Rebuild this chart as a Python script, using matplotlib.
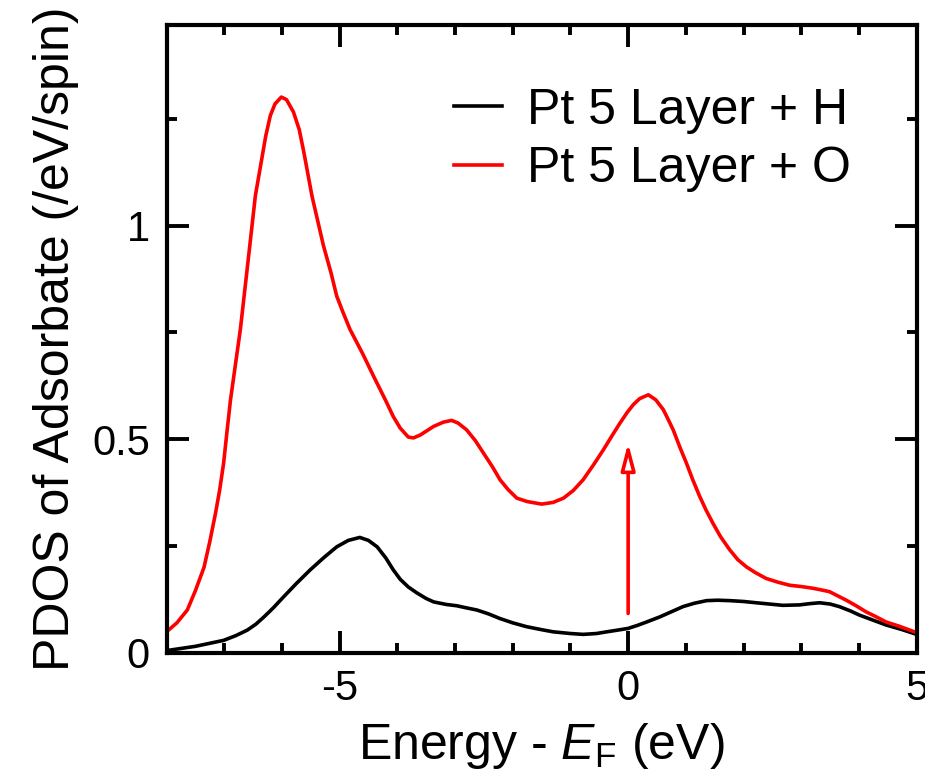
import matplotlib
matplotlib.use('Agg')
import matplotlib.pyplot as plt
from matplotlib.ticker import MultipleLocator

plt.rcParams['font.family'] = ['Liberation Sans', 'DejaVu Sans']
plt.rcParams['mathtext.fontset'] = 'custom'
plt.rcParams['mathtext.rm'] = 'Liberation Sans'
plt.rcParams['mathtext.it'] = 'Liberation Sans:italic'

# PDOS of O on Pt 5 layer (red)
energy_o = [-8.0, -7.82, -7.64, -7.5, -7.35, -7.25, -7.15, -7.08, -7.01, -6.95,
            -6.89, -6.80, -6.72, -6.57, -6.46, -6.37, -6.28, -6.20, -6.12, -6.01,
            -5.92, -5.80, -5.70, -5.62, -5.48, -5.28, -5.15, -5.05, -4.95, -4.82,
            -4.6, -4.41, -4.2, -4.07, -3.95, -3.81, -3.72, -3.6, -3.37, -3.2,
            -3.06, -2.95, -2.80, -2.65, -2.51, -2.35, -2.22, -2.08, -1.93, -1.75,
            -1.50, -1.3, -1.12, -0.95, -0.78, -0.6, -0.43, -0.28, -0.14, -0.02,
            0.09, 0.2, 0.35, 0.48, 0.61, 0.68, 0.78, 0.9, 1.01, 1.12,
            1.24, 1.35, 1.47, 1.6, 1.76, 1.9, 2.05, 2.2, 2.39, 2.6,
            2.80, 3.0, 3.20, 3.35, 3.49, 3.62, 3.78, 3.95, 4.12, 4.3,
            4.47, 4.7, 5.0]
pdos_o = [0.049, 0.07, 0.10, 0.145, 0.20, 0.26, 0.327, 0.38, 0.444, 0.52,
          0.593, 0.68, 0.757, 0.937, 1.07, 1.14, 1.21, 1.258, 1.285, 1.301,
          1.295, 1.266, 1.225, 1.172, 1.07, 0.953, 0.89, 0.835, 0.80, 0.757,
          0.70, 0.647, 0.59, 0.553, 0.526, 0.505, 0.503, 0.51, 0.530, 0.54,
          0.544, 0.538, 0.522, 0.497, 0.468, 0.435, 0.405, 0.382, 0.362, 0.354,
          0.348, 0.352, 0.362, 0.38, 0.405, 0.44, 0.475, 0.508, 0.538, 0.562,
          0.581, 0.595, 0.604, 0.592, 0.569, 0.550, 0.522, 0.48, 0.444, 0.405,
          0.366, 0.334, 0.303, 0.272, 0.241, 0.218, 0.201, 0.188, 0.174, 0.165,
          0.158, 0.155, 0.151, 0.147, 0.143, 0.134, 0.123, 0.11, 0.096, 0.084,
          0.072, 0.062, 0.047]

# PDOS of H on Pt 5 layer (black)
energy_h = [-8.0, -7.5, -7.01, -6.8, -6.6, -6.45, -6.31, -6.15, -5.97, -5.75,
            -5.51, -5.28, -5.05, -4.85, -4.65, -4.5, -4.35, -4.2, -4.07, -3.95,
            -3.81, -3.66, -3.5, -3.37, -3.15, -2.97, -2.8, -2.62, -2.42, -2.22,
            -2.0, -1.76, -1.5, -1.30, -1.0, -0.78, -0.55, -0.37, -0.18, 0.0,
            0.16, 0.32, 0.55, 0.75, 0.95, 1.15, 1.36, 1.55, 1.76, 2.0,
            2.22, 2.45, 2.68, 2.97, 3.15, 3.32, 3.5, 3.66, 3.85, 4.01,
            4.25, 4.47, 4.75, 5.0]
pdos_h = [0.005, 0.015, 0.029, 0.040, 0.053, 0.067, 0.084, 0.105, 0.131, 0.162,
          0.194, 0.222, 0.248, 0.263, 0.270, 0.263, 0.248, 0.222, 0.194, 0.172,
          0.154, 0.140, 0.127, 0.119, 0.113, 0.110, 0.105, 0.100, 0.091, 0.080,
          0.070, 0.061, 0.054, 0.049, 0.045, 0.043, 0.045, 0.049, 0.053, 0.057,
          0.064, 0.072, 0.084, 0.096, 0.108, 0.116, 0.122, 0.123, 0.122, 0.120,
          0.117, 0.114, 0.111, 0.112, 0.115, 0.117, 0.114, 0.108, 0.098, 0.088,
          0.076, 0.065, 0.054, 0.043]

# arrow at the Fermi level
arrow_x = 0.0
arrow_y = [0.092, 0.491]

fig = plt.figure(figsize=(9.25, 7.78), dpi=100)
ax = fig.add_axes([0.180, 0.161, 0.811, 0.807])

ax.plot(energy_h, pdos_h, color='black', lw=2.6, label='Pt 5 Layer + H')
ax.plot(energy_o, pdos_o, color='red', lw=2.6, label='Pt 5 Layer + O')

ax.annotate('', xy=(arrow_x, arrow_y[1]), xytext=(arrow_x, arrow_y[0]),
            arrowprops=dict(arrowstyle='-|>,head_length=1.6,head_width=0.42',
                            ec='red', fc='white', lw=2.6, shrinkA=0, shrinkB=0))

ax.set_xlim(-8, 5)
ax.set_ylim(0, 1.47)
ax.xaxis.set_major_locator(MultipleLocator(5))
ax.xaxis.set_minor_locator(MultipleLocator(1))
ax.yaxis.set_major_locator(MultipleLocator(0.5))
ax.yaxis.set_minor_locator(MultipleLocator(0.25))
ax.set_xticks([-5, 0, 5])
ax.set_xticklabels(['-5', '0', '5'])
ax.set_yticks([0, 0.5, 1])
ax.set_yticklabels(['0', '0.5', '1'])

ax.tick_params(which='both', direction='in', top=True, right=True, width=2.8,
               labelsize=30, pad=12)
ax.tick_params(which='major', length=15.5)
ax.tick_params(which='minor', length=7.5)
for s in ax.spines.values():
    s.set_linewidth(3)

ax.set_xlabel('Energy - $E$$_\\mathrm{F}$ (eV)', fontsize=36, labelpad=8)
ax.set_ylabel('PDOS of Adsorbate (/eV/spin)', fontsize=36, labelpad=9)

ax.legend(loc='upper left', bbox_to_anchor=(0.383, 0.9), frameon=False,
          fontsize=36, handlelength=0.97, handletextpad=0.5,
          labelspacing=0.25, borderpad=0, borderaxespad=0)

fig.savefig('out.png', dpi=100)
